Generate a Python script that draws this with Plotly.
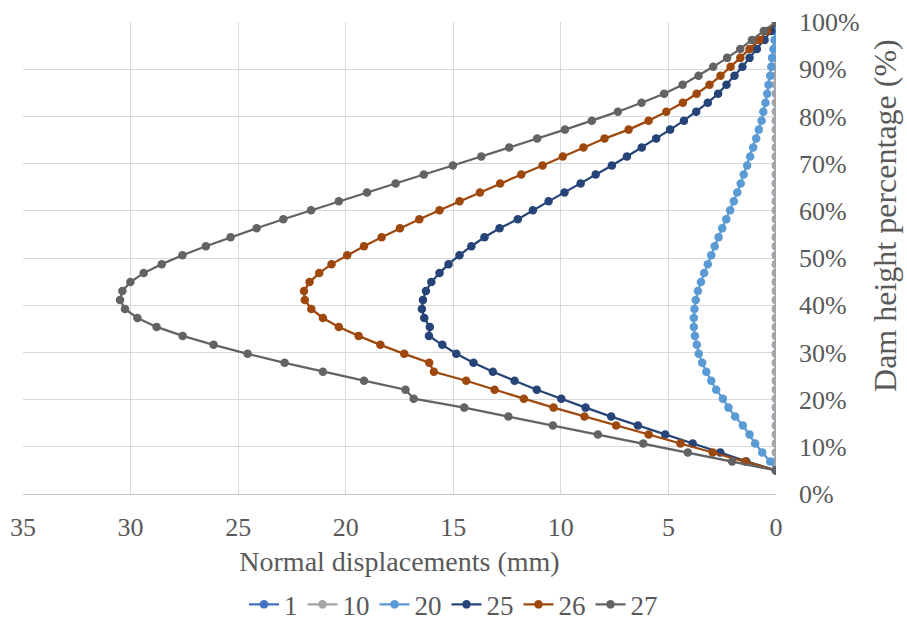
import plotly.graph_objects as go

# Dam height percentage (%) of the measurement nodes
heights = [5.0, 6.9, 8.8, 10.7, 12.6, 14.5, 16.4, 18.3, 20.2, 22.1, 24.0, 25.9, 27.8, 29.7,
           31.6, 33.5, 35.4, 37.3, 39.2, 41.1, 43.0, 44.9, 46.8, 48.7, 50.6, 52.5, 54.4,
           56.3, 58.2, 60.1, 62.0, 63.9, 65.8, 67.7, 69.6, 71.5, 73.4, 75.3, 77.2, 79.1,
           81.0, 82.9, 84.8, 86.7, 88.6, 90.5, 92.4, 94.3, 96.2, 98.1, 100.0]

series_names = ["1", "10", "20", "25", "26", "27"]

disp_1 = [0.0] * 51
disp_10 = [0.0] * 51
disp_20 = [0.0, 0.27, 0.64, 0.97, 1.23, 1.54, 1.90, 2.21, 2.47, 2.78, 3.01, 3.24, 3.43, 3.59,
           3.68, 3.77, 3.82, 3.82, 3.79, 3.73, 3.63, 3.49, 3.34, 3.17, 3.01, 2.85, 2.67,
           2.50, 2.31, 2.13, 1.96, 1.80, 1.64, 1.50, 1.34, 1.20, 1.06, 0.92, 0.80, 0.67,
           0.59, 0.49, 0.41, 0.35, 0.27, 0.22, 0.18, 0.12, 0.07, 0.02, 0.0]
disp_25 = [0.0, 1.38, 2.59, 3.87, 5.15, 6.42, 7.66, 8.85, 9.98, 11.12, 12.15, 13.16, 14.06,
           14.86, 15.51, 16.13, 16.09, 16.35, 16.46, 16.41, 16.27, 16.02, 15.64, 15.22,
           14.71, 14.16, 13.55, 12.85, 12.00, 11.30, 10.57, 9.83, 9.08, 8.38, 7.63, 6.93,
           6.24, 5.57, 4.92, 4.28, 3.71, 3.17, 2.69, 2.30, 1.93, 1.56, 1.23, 0.89, 0.53,
           0.22, 0.0]
disp_26 = [0.0, 1.43, 2.94, 4.44, 5.92, 7.43, 8.90, 10.34, 11.72, 13.08, 14.40, 15.90, 16.12,
           17.28, 18.39, 19.40, 20.32, 21.06, 21.60, 21.90, 21.94, 21.68, 21.23, 20.66,
           19.93, 19.15, 18.33, 17.48, 16.58, 15.64, 14.71, 13.76, 12.82, 11.84, 10.85,
           9.91, 8.95, 7.97, 6.85, 5.92, 5.10, 4.33, 3.69, 3.09, 2.58, 2.11, 1.66, 1.23,
           0.77, 0.41, 0.0]
disp_27 = [0.0, 2.04, 4.10, 6.17, 8.28, 10.37, 12.44, 14.49, 16.84, 17.22, 19.15, 21.06,
           22.84, 24.56, 26.14, 27.58, 28.79, 29.68, 30.26, 30.49, 30.38, 30.01, 29.39,
           28.55, 27.59, 26.50, 25.35, 24.14, 22.90, 21.61, 20.32, 19.01, 17.68, 16.37,
           15.02, 13.70, 12.40, 11.10, 9.81, 8.56, 7.35, 6.25, 5.20, 4.34, 3.60, 2.92,
           2.27, 1.66, 1.12, 0.57, 0.0]

x_ticks = [0, 5, 10, 15, 20, 25, 30, 35]
y_ticks = [0, 10, 20, 30, 40, 50, 60, 70, 80, 90, 100]
y_tick_labels = ["0%", "10%", "20%", "30%", "40%", "50%", "60%", "70%", "80%", "90%", "100%"]

colors = ["#4472C4", "#A5A5A5", "#5B9BD5", "#264478", "#9E480E", "#636363"]
all_disp = [disp_1, disp_10, disp_20, disp_25, disp_26, disp_27]

FONT = "Liberation Serif"
TXT = "#595959"

fig = go.Figure()
for name, xs, c in zip(series_names, all_disp, colors):
    fig.add_trace(go.Scatter(
        x=xs, y=heights, name=name, mode="lines+markers",
        line=dict(color=c, width=2.25),
        marker=dict(color=c, size=8.5),
    ))

fig.update_layout(
    width=907, height=632,
    margin=dict(l=23, r=131, t=22, b=138),
    plot_bgcolor="white", paper_bgcolor="white",
    font=dict(family=FONT, color=TXT, size=26),
    showlegend=True,
    legend=dict(orientation="h", xref="container", yref="container",
                x=0.5, xanchor="center", y=0.043, yanchor="middle",
                font=dict(family=FONT, size=27, color=TXT),
                itemwidth=30, tracegroupgap=0),
    xaxis=dict(range=[35, 0], tickvals=x_ticks, showgrid=True, gridcolor="#D9D9D9",
               gridwidth=1, zeroline=False, showline=True, linecolor="#C8C8C8",
               linewidth=1, ticks="", ticklabelstandoff=10, automargin=False,
               tickfont=dict(family=FONT, size=26, color=TXT),
               title=dict(text="Normal displacements (mm)", standoff=10,
                          font=dict(family=FONT, size=28, color=TXT))),
    yaxis=dict(range=[0, 100], tickvals=y_ticks, ticktext=y_tick_labels, side="right",
               showgrid=True, gridcolor="#D9D9D9", gridwidth=1, zeroline=False,
               showline=False, ticks="", ticklabelstandoff=22, automargin=False,
               tickfont=dict(family=FONT, size=26, color=TXT)),
    annotations=[dict(text="Dam height percentage (%)", textangle=-90,
                      xref="paper", yref="paper", x=1.144, y=0.59,
                      xanchor="center", yanchor="middle", showarrow=False,
                      font=dict(family=FONT, size=32, color=TXT))],
)

fig.write_html("out.html", config={"displayModeBar": False},
               post_script="document.body.style.margin='0';document.body.style.overflow='hidden';")
